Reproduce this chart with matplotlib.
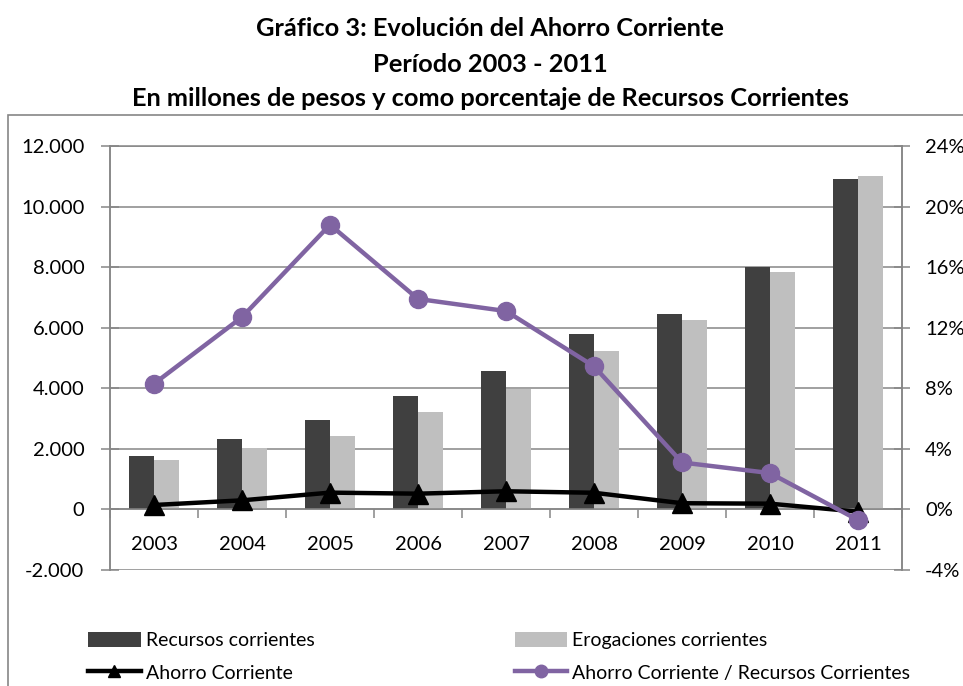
import matplotlib
matplotlib.use("Agg")
import matplotlib.pyplot as plt
import numpy as np
from matplotlib.ticker import FuncFormatter, MultipleLocator, FixedLocator
from matplotlib.lines import Line2D
from matplotlib.patches import Patch, Rectangle

plt.rcParams['font.family'] = ['Lato', 'DejaVu Sans']

years = ['2003', '2004', '2005', '2006', '2007', '2008', '2009', '2010', '2011']
recursos = [1760, 2340, 2950, 3750, 4570, 5790, 6440, 8020, 10910]
erogaciones = [1620, 2040, 2410, 3230, 3960, 5230, 6240, 7830, 11010]
ahorro = [146, 300, 555, 520, 600, 550, 205, 190, -75]
ratio = [8.3, 12.7, 18.8, 13.9, 13.1, 9.45, 3.1, 2.4, -0.7]

title_lines = ["Gráfico 3: Evolución del Ahorro Corriente",
               "Período 2003 - 2011",
               "En millones de pesos y como porcentaje de Recursos Corrientes"]

W, H = 963, 686
fig = plt.figure(figsize=(W / 100, H / 100), dpi=100)
fig.patch.set_facecolor('white')

GRID = '#868686'
DARK = '#404040'
LIGHT = '#BFBFBF'
PURPLE = '#8064A2'

# outer chart frame
fig.patches.append(Rectangle((8 / W, -0.05), 1.1, 1 - 115 / H + 0.05, transform=fig.transFigure,
                             fill=False, edgecolor=GRID, linewidth=1.2))

for i, (t, yc) in enumerate(zip(title_lines, [29, 64, 99])):
    fig.text(490 / W, 1 - yc / H, t, ha='center', va='center', fontsize=18.3,
             fontweight='bold', color='black')

left, right, top, bottom = 110, 902, 146, 570
ax = fig.add_axes([left / W, 1 - bottom / H, (right - left) / W, (bottom - top) / H])
ax2 = ax.twinx()

x = np.arange(len(years))
bw = 0.285
b1 = ax.bar(x - bw / 2, recursos, width=bw, color=DARK, zorder=2, label='Recursos corrientes')
b2 = ax.bar(x + bw / 2, erogaciones, width=bw, color=LIGHT, zorder=2, label='Erogaciones corrientes')
l1, = ax.plot(x, ahorro, color='black', lw=3.2, marker='^', markersize=14, zorder=3,
              label='Ahorro Corriente')
l2, = ax2.plot(x, ratio, color=PURPLE, lw=3.2, marker='o', markersize=13, zorder=3,
               label='Ahorro Corriente / Recursos Corrientes')

ax.set_xlim(-0.5, len(years) - 0.5)
ax.set_ylim(-2000, 12000)
ax2.set_ylim(-4, 24)

ax.yaxis.set_major_locator(MultipleLocator(2000))
ax.yaxis.set_major_formatter(FuncFormatter(lambda v, p: f"{int(v):,}".replace(',', '.')))
ax2.yaxis.set_major_locator(MultipleLocator(4))
ax2.yaxis.set_major_formatter(FuncFormatter(lambda v, p: f"{v:.0f}%"))

ax.grid(axis='y', color=GRID, lw=1.1, zorder=0)
ax.set_axisbelow(True)

ax.set_xticks(x)
ax.set_xticklabels(years)
ax.xaxis.set_minor_locator(FixedLocator(np.arange(-0.5, len(years), 1.0)))
ax.tick_params(axis='x', which='major', length=0, pad=19, labelsize=14.5)
ax.tick_params(axis='x', which='minor', length=6.5, width=1.1, color=GRID, direction='out')
ax.tick_params(axis='y', direction='inout', length=13, width=1.1, color=GRID, pad=12, labelsize=14.5)
ax2.tick_params(axis='y', direction='inout', length=11, width=1.1, color=GRID, pad=11, labelsize=14.5)

for a in (ax, ax2):
    for s in a.spines.values():
        s.set_color(GRID)
        s.set_linewidth(1.1)
    a.spines['bottom'].set_position(('data', 0))
    a.spines['top'].set_visible(False)
ax2.spines['bottom'].set_visible(False)
ax.spines['top'].set_visible(True)
ax.spines['top'].set_position(('data', 12000))

# legend proxies (smaller markers as in the reference legend)
h1 = Patch(facecolor=DARK, label=b1.get_label())
h2 = Patch(facecolor=LIGHT, label=b2.get_label())
h3 = Line2D([], [], color='black', lw=3.2, marker='^', markersize=9, label=l1.get_label())
h4 = Line2D([], [], color=PURPLE, lw=3.2, marker='o', markersize=9, label=l2.get_label())
handles = [h1, h3, h2, h4]
labels = [h.get_label() for h in handles]
fig.legend(handles, labels, ncol=2, loc='upper left', bbox_to_anchor=(88 / W, 1 - 632 / H),
           frameon=False, fontsize=14, handlelength=2.7, handleheight=0.8, handletextpad=0.26,
           columnspacing=10.3, labelspacing=0.78, borderaxespad=0, borderpad=0)

fig.savefig('out.png', dpi=100, facecolor='white')
